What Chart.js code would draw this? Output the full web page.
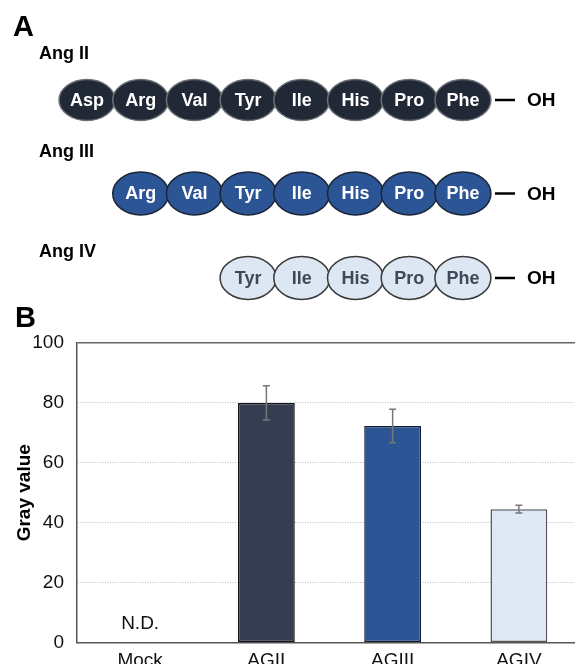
<!DOCTYPE html>
<html>
<head>
<meta charset="utf-8">
<script src="https://cdn.jsdelivr.net/npm/chart.js@4.4.1/dist/chart.umd.min.js"></script>
<style>
  html, body { margin: 0; padding: 0; background: #fff; overflow: hidden; }
  #wrap { position: absolute; left: 0; top: 0; width: 582px; height: 680px; }
</style>
</head>
<body>
<div id="wrap"><canvas id="grayChart" width="582" height="680"></canvas></div>
<script>
// panel B data
const categories = ['Mock', 'AGII', 'AGIII', 'AGIV'];
const grayValues = [null, 80, 72.3, 44.5];   // Mock = not detected
const grayErrors = [null, 5.7, 5.6, 1.3];
const yTicks = [0, 20, 40, 60, 80, 100];

// panel A sequences
const peptideNames = ['Ang II', 'Ang III', 'Ang IV'];
const angII = ['Asp', 'Arg', 'Val', 'Tyr', 'Ile', 'His', 'Pro', 'Phe'];
const angIII = ['Arg', 'Val', 'Tyr', 'Ile', 'His', 'Pro', 'Phe'];
const angIV = ['Tyr', 'Ile', 'His', 'Pro', 'Phe'];

const FONT = '"Liberation Sans", Arial, Helvetica, sans-serif';

const barFill = ['#ffffff', '#343e50', '#2c5596', '#dfe9f5'];
const barEdge = ['#ffffff', '#111317', '#151f33', '#555555'];

// ellipse styles for each peptide row
const rowStyles = [
    { fill: '#222936', edge: '#6b6f78', text: '#ffffff', y: 100, ry: 20.5, label: 59 },
    { fill: '#2c5596', edge: '#1d2638', text: '#ffffff', y: 193.5, ry: 21.5, label: 157 },
    { fill: '#dde7f3', edge: '#3a3a3a', text: '#3e4859', y: 278, ry: 21.5, label: 256.5 }
];

const peptidePanel = {
    id: 'peptidePanel',
    afterDraw(chart) {
        const ctx = chart.ctx;
        ctx.save();
        ctx.fillStyle = '#000';
        ctx.textBaseline = 'alphabetic';
        ctx.textAlign = 'left';
        ctx.font = 'bold 29px ' + FONT;
        ctx.fillText('A', 13, 36);
        ctx.fillText('B', 15, 327);

        [angII, angIII, angIV].forEach((seq, r) => {
            const st = rowStyles[r];
            ctx.fillStyle = '#000';
            ctx.textAlign = 'left';
            ctx.textBaseline = 'alphabetic';
            ctx.font = 'bold 18px ' + FONT;
            ctx.fillText(peptideNames[r], 39, st.label);

            const offset = angII.length - seq.length;
            seq.forEach((res, i) => {
                const cx = 87 + (offset + i) * 53.7;
                ctx.beginPath();
                ctx.ellipse(cx, st.y, 28, st.ry, 0, 0, Math.PI * 2);
                ctx.fillStyle = st.fill;
                ctx.fill();
                ctx.lineWidth = 1.5;
                ctx.strokeStyle = st.edge;
                ctx.stroke();
                ctx.fillStyle = st.text;
                ctx.textAlign = 'center';
                ctx.textBaseline = 'middle';
                ctx.font = 'bold 18px ' + FONT;
                ctx.fillText(res, cx, st.y + 1);
            });

            // C-terminal -OH
            ctx.beginPath();
            ctx.moveTo(495, st.y);
            ctx.lineTo(515, st.y);
            ctx.lineWidth = 2.5;
            ctx.strokeStyle = '#000';
            ctx.stroke();
            ctx.fillStyle = '#000';
            ctx.textAlign = 'left';
            ctx.textBaseline = 'middle';
            ctx.font = 'bold 19px ' + FONT;
            ctx.fillText('OH', 527, st.y + 1);
        });
        ctx.restore();
    }
};

const errorBars = {
    id: 'errorBars',
    afterDatasetsDraw(chart) {
        const ctx = chart.ctx;
        const xs = chart.scales.x;
        const ys = chart.scales.y;
        ctx.save();
        ctx.strokeStyle = '#777';
        ctx.lineWidth = 1.5;
        grayValues.forEach((v, i) => {
            const err = grayErrors[i];
            if (v === null || err === null) return;
            const x = xs.getPixelForValue(i);
            const yTop = ys.getPixelForValue(v + err);
            const yBot = ys.getPixelForValue(v - err);
            ctx.beginPath();
            ctx.moveTo(x, yTop); ctx.lineTo(x, yBot);
            ctx.moveTo(x - 3.5, yTop); ctx.lineTo(x + 3.5, yTop);
            ctx.moveTo(x - 3.5, yBot); ctx.lineTo(x + 3.5, yBot);
            ctx.stroke();
        });
        // not detected label for Mock
        ctx.fillStyle = '#111';
        ctx.font = '19px ' + FONT;
        ctx.textAlign = 'center';
        ctx.textBaseline = 'alphabetic';
        ctx.fillText('N.D.', xs.getPixelForValue(0), ys.getPixelForValue(0) - 14);
        ctx.restore();
    }
};

new Chart(document.getElementById('grayChart'), {
    type: 'bar',
    data: {
        labels: categories,
        datasets: [{
            data: grayValues,
            backgroundColor: barFill,
            borderColor: barEdge,
            borderWidth: 1.5,
            borderSkipped: false,
            barPercentage: 0.45,
            categoryPercentage: 1
        }]
    },
    options: {
        responsive: false,
        animation: false,
        layout: { padding: { top: 343, left: 0, right: 0, bottom: 0 } },
        plugins: { legend: { display: false }, tooltip: { enabled: false } },
        scales: {
            x: {
                grid: { display: false },
                border: { display: true, color: '#555', width: 1.5 },
                ticks: { color: '#111', font: { family: FONT, size: 19 }, padding: -1 },
                afterFit(s) { s.height = 680 - 642.5; }
            },
            y: {
                min: 0,
                max: 100,
                afterBuildTicks(s) { s.ticks = yTicks.map(v => ({ value: v })); },
                grid: {
                    drawTicks: false,
                    color: c => c.tick && c.tick.value === 100 ? '#666' : (c.tick && c.tick.value === 0 ? 'rgba(0,0,0,0)' : '#bdbdbd'),
                    lineWidth: c => c.tick && c.tick.value === 100 ? 1.5 : 1
                },
                border: {
                    display: true, color: '#555', width: 1.5,
                    dash: c => c.tick && c.tick.value > 0 && c.tick.value < 100 ? [1, 1.5] : []
                },
                ticks: { color: '#111', font: { family: FONT, size: 19 }, padding: 13 },
                title: {
                    display: true,
                    text: 'Gray value',
                    color: '#000',
                    font: { family: FONT, size: 19, weight: 'bold' },
                    padding: { top: 13, bottom: 0 }
                },
                afterFit(s) { s.width = 77; }
            }
        }
    },
    plugins: [peptidePanel, errorBars]
});
</script>
</body>
</html>
